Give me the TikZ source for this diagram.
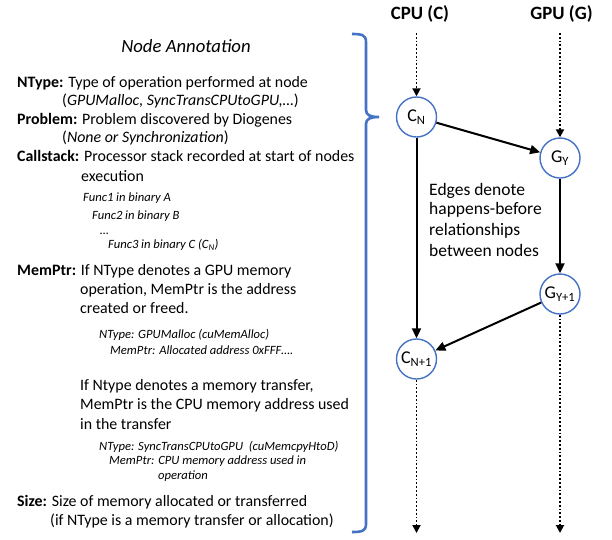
\documentclass[tikz,border=0pt]{standalone}
\usepackage{fontspec}
\setmainfont{Carlito}
\usetikzlibrary{arrows.meta,positioning}
\definecolor{NodeBlue}{HTML}{4472C4}
\tikzset{
  evento/.style  = {draw=NodeBlue, circle, line width=1.4pt, fill=white,
                    minimum size=40pt, inner sep=0pt, font=\fontsize{18}{20}\selectfont},
  flecha/.style  = {-{Triangle[length=10pt,width=9pt]}, line width=2pt},
  flechap/.style = {-{Triangle[length=8pt,width=8pt]}, line width=1.8pt, dotted},
  llave/.style   = {draw=NodeBlue, line width=2.6pt},
  titulo/.style  = {font=\fontsize{18.7}{21}\selectfont\itshape, inner sep=0pt},
  cab/.style     = {font=\fontsize{18.8}{21}\selectfont\bfseries, inner sep=0pt},
  txt/.style     = {anchor=base west, font=\fontsize{15.9}{18}\selectfont, inner sep=0pt},
  ejem/.style    = {anchor=base west, font=\fontsize{12.6}{14}\selectfont\itshape, inner sep=0pt},
  nota/.style    = {anchor=base west, font=\fontsize{17.5}{20}\selectfont, inner sep=0pt},
}
\begin{document}
\begin{tikzpicture}[x=1pt,y=-1pt]
  \useasboundingbox (0,0) rectangle (612,539);
  % annotation text
  \node[titulo] (titulo) at (186,46) {Node Annotation};
  \node[txt] (ntype) at (17,87) {\textbf{NType:} Type of operation performed at node};
  \node[txt] (ntype2) at (62,105.5) {(\textit{GPUMalloc, SyncTransCPUtoGPU,\dots})};
  \node[txt] (prob) at (17,124) {\textbf{Problem:} Problem discovered by Diogenes};
  \node[txt] (prob2) at (62,142.5) {(\textit{None or Synchronization})};
  \node[txt] (cstack) at (17,161.5) {\textbf{Callstack:} Processor stack recorded at start of nodes};
  \node[txt] (cstack2) at (81,181) {execution};
  \node[ejem] (func1) at (83,201) {Func1 in binary A};
  \node[ejem] (func2) at (92,219.5) {Func2 in binary B};
  \node[ejem] (puntos) at (100,234.5) {\dots};
  \node[ejem] (func3) at (108,248.5) {Func3 in binary C (C\textsubscript{N})};
  \node[txt] (memptr) at (17,275) {\textbf{MemPtr:} If NType denotes a GPU memory};
  \node[txt] (memptr2) at (80,294) {operation, MemPtr is the address};
  \node[txt] (memptr3) at (80,313) {created or freed.};
  \node[ejem] (ej1a) at (99,338) {NType: GPUMalloc (cuMemAlloc)};
  \node[ejem] (ej1b) at (110,354.5) {MemPtr: Allocated address 0xFFF\dots.};
  \node[txt] (memptr4) at (80,390.5) {If Ntype denotes a memory transfer,};
  \node[txt] (memptr5) at (80,409.5) {MemPtr is the CPU memory address used};
  \node[txt] (memptr6) at (80,429) {in the transfer};
  \node[ejem] (ej2a) at (99,450) {NType: SyncTransCPUtoGPU\ \ (cuMemcpyHtoD)};
  \node[ejem] (ej2b) at (109,464.5) {MemPtr: CPU memory address used in};
  \node[ejem] (ej2c) at (158,479) {operation};
  \node[txt] (size) at (17,506) {\textbf{Size:} Size of memory allocated or transferred};
  \node[txt] (size2) at (50,525) {(if NType is a memory transfer or allocation)};
  % brace
  \draw[llave] (352,34) .. controls (362,34) and (366,35) .. (366,42)
    -- (366,110) .. controls (366,115) and (370,117) .. (379,117)
    .. controls (370,117) and (366,119) .. (366,124)
    -- (366,524) .. controls (366,531) and (362,532) .. (352,532);
  % timelines
  \node[cab] (cpu) at (420,14) {CPU (C)};
  \node[cab] (gpu) at (561.5,14) {GPU (G)};
  \coordinate (cpuini) at (416.5,33);
  \coordinate (gpuini) at (560,33);
  \coordinate (cpufin) at (416.5,533);
  \coordinate (gpufin) at (560,533);
  \node[evento] (cn)  at (416.5,117) {C\textsubscript{N}};
  \node[evento] (gy)  at (560,158) {G\textsubscript{Y}};
  \node[evento] (gy1) at (560,294) {G\textsubscript{Y+1}};
  \node[evento] (cn1) at (416.5,359) {C\textsubscript{N+1}};
  \draw[flechap] (cpuini) -- (cn);
  \draw[flechap] (gpuini) -- (gy);
  \draw[flechap] (cn1) -- (cpufin);
  \draw[flechap] (gy1) -- (gpufin);
  \draw[flecha] (cn) -- (gy);
  \draw[flecha] (gy) -- (gy1);
  \draw[flecha] (cn) -- (cn1);
  \draw[flecha] (gy1) -- (cn1);
  \node[nota] (aristas) at (429,195) {Edges denote};
  \node[nota] (aristas2) at (429,214.5) {happens-before};
  \node[nota] (aristas3) at (429,235) {relationships};
  \node[nota] (aristas4) at (429,256) {between nodes};
\end{tikzpicture}
\end{document}
